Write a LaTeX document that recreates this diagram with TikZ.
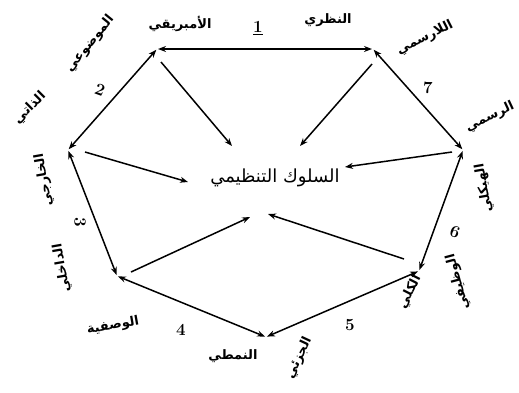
\documentclass[tikz,border=0pt]{standalone}
\usepackage{fontspec}
\TeXXeTstate=1
\newfontfamily\arabicfont[Script=Arabic]{DejaVu Sans}
\usetikzlibrary{arrows.meta}
\tikzset{
  edgeline/.style={line width=1.5pt,{Stealth[length=8pt,width=6pt]}-{Stealth[length=8pt,width=6pt]},shorten <=1pt,shorten >=1pt},
  inline/.style={line width=1.5pt,-{Stealth[length=8pt,width=6pt]}},
  pole/.style={font=\arabicfont\fontsize{13}{15}\selectfont\bfseries,inner sep=0pt},
  num/.style={font=\fontsize{17}{19}\selectfont\bfseries,inner sep=0pt},
  core/.style={font=\arabicfont\fontsize{18}{21}\selectfont,inner sep=1pt}
}
\begin{document}
\begin{tikzpicture}[x=1pt,y=-1pt]
\useasboundingbox (0,0) rectangle (519,392);
% vertices
\coordinate (v1) at (157,49);
\coordinate (v2) at (373,49);
\coordinate (v3) at (463,150);
\coordinate (v4) at (419,271);
\coordinate (v5) at (266,337);
\coordinate (v6) at (117,276);
\coordinate (v7) at (68,150);
% centre
\node[core] (c) at (275,178) {\beginR السلوك التنظيمي\endR};
% edges
\draw[edgeline] (v1) -- (v2);
\draw[edgeline] (v2) -- (v3);
\draw[edgeline] (v3) -- (v4);
\draw[edgeline] (v4) -- (v5);
\draw[edgeline] (v5) -- (v6);
\draw[edgeline] (v6) -- (v7);
\draw[edgeline] (v7) -- (v1);
% arrows to the centre
\coordinate (s1) at (161,62);  \coordinate (e1) at (232,146);
\coordinate (s2) at (372,64);  \coordinate (e2) at (300,146);
\coordinate (s3) at (452,152); \coordinate (e3) at (345,167);
\coordinate (s4) at (404,259); \coordinate (e4) at (268,214);
\coordinate (s6) at (131,272); \coordinate (e6) at (250,217);
\coordinate (s7) at (85,152);  \coordinate (e7) at (188,182);
\draw[inline] (s1) -- (e1);
\draw[inline] (s2) -- (e2);
\draw[inline] (s3) -- (e3);
\draw[inline] (s4) -- (e4);
\draw[inline] (s6) -- (e6);
\draw[inline] (s7) -- (e7);
% numbers
\node[num] (n1) at (258,28) {\underline{1}};
\node[num,rotate=-20] (n2) at (100,90) {2};
\node[num,rotate=-90] (n3) at (80,222) {3};
\node[num] (n4) at (181,330) {4};
\node[num] (n5) at (350,325) {5};
\node[num,rotate=-20] (n6) at (455,232) {6};
\node[num] (n7) at (428,88) {7};
% pole labels
\node[pole] (p1a) at (180,24) {\beginR الأمبريقي\endR};
\node[pole] (p1b) at (328,20) {\beginR النظري\endR};
\node[pole,rotate=27] (p7a) at (425,38) {\beginR اللارسمي\endR};
\node[pole,rotate=25] (p7b) at (490,117) {\beginR الرسمي\endR};
\node[pole,rotate=100] (p6a) at (484,188) {\beginR الهيكلي\endR};
\node[pole,rotate=105] (p6b) at (458,282) {\beginR الوظيفي\endR};
\node[pole,rotate=63] (p5a) at (410,292) {\beginR الكلي\endR};
\node[pole,rotate=65] (p5b) at (299,358) {\beginR الجزئي\endR};
\node[pole] (p4a) at (233,356) {\beginR النمطي\endR};
\node[pole,rotate=10] (p4b) at (113,326) {\beginR الوصفية\endR};
\node[pole,rotate=100] (p3a) at (62,268) {\beginR الداخلي\endR};
\node[pole,rotate=100] (p3b) at (44,180) {\beginR الخارجي\endR};
\node[pole,rotate=45] (p2a) at (30,108) {\beginR الذاتي\endR};
\node[pole,rotate=51] (p2b) at (90,44) {\beginR الموضوعي\endR};
\end{tikzpicture}
\end{document}
